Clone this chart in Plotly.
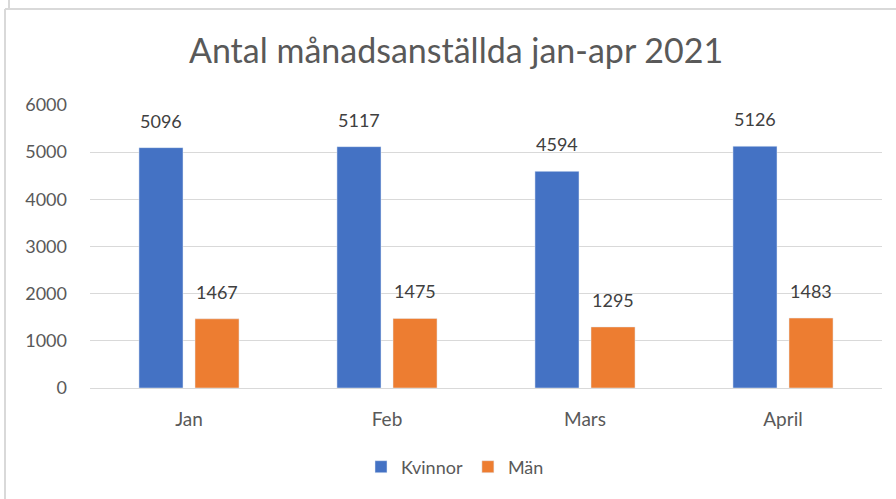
import plotly.graph_objects as go

months = ["Jan", "Feb", "Mars", "April"]
kvinnor = [5096, 5117, 4594, 5126]
man = [1467, 1475, 1295, 1483]
title_text = "Antal månadsanställda jan-apr 2021"

W, H = 896, 499
L, R, T, B = 90, 14, 105, 111
pw, ph = W - L - R, H - T - B


def px(x):
    # pixel x -> paper x
    return (x - L) / pw


def py(y):
    # pixel y -> paper y
    return (H - B - y) / ph


fig = go.Figure()
fig.add_trace(go.Bar(x=months, y=kvinnor, name="Kvinnor",
                     marker=dict(color="#4472C4")))
fig.add_trace(go.Bar(x=months, y=man, name="Män",
                     marker=dict(color="#ED7D31")))

# data labels above the bars
annotations = []
for vals, shift in ((kvinnor, -28), (man, 28)):
    for m, v in zip(months, vals):
        annotations.append(dict(
            x=m, y=v, text=str(v), showarrow=False, xshift=shift,
            yanchor="middle", yshift=27,
            font=dict(size=18, color="#404040", family="Lato, sans-serif")))

# frame of the screenshot
border = dict(color="#d9d9d9", width=2)
shapes = [
    dict(type="line", xref="paper", yref="paper", x0=px(5), x1=px(W),
         y0=py(9), y1=py(9), line=border),
    dict(type="line", xref="paper", yref="paper", x0=px(5), x1=px(5),
         y0=py(9), y1=py(H), line=border),
    dict(type="line", xref="paper", yref="paper", x0=px(9), x1=px(9),
         y0=py(0), y1=py(8), line=border),
]

fig.update_layout(
    width=W, height=H,
    margin=dict(l=L, r=R, t=T, b=B),
    paper_bgcolor="white", plot_bgcolor="white",
    font=dict(family="Lato, sans-serif", color="#595959", size=18),
    title=dict(text=title_text, x=0.509, xanchor="center",
               y=1 - 51 / H, yanchor="middle",
               font=dict(size=34, color="#595959")),
    barmode="group", bargap=0.434, bargroupgap=0.214,
    xaxis=dict(showgrid=False, showline=True, linecolor="#d9d9d9",
               linewidth=1, ticks="", ticklabelstandoff=14,
               tickfont=dict(size=19, color="#595959")),
    yaxis=dict(range=[0, 6000], dtick=1000, showgrid=True,
               gridcolor="#d9d9d9", gridwidth=1, zeroline=False,
               ticks="", ticklabelstandoff=22,
               tickfont=dict(size=18, color="#595959")),
    legend=dict(orientation="h", x=px(455), xanchor="center",
                y=py(467), yanchor="middle",
                font=dict(size=18, color="#595959"),
                itemwidth=30, traceorder="normal"),
    annotations=annotations,
    shapes=shapes,
)

fig.write_html("out.html", config={"displayModeBar": False},
               post_script="document.body.style.margin='0';")
